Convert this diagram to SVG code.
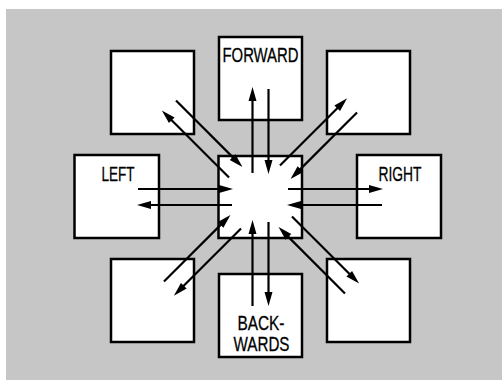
<svg xmlns="http://www.w3.org/2000/svg" width="502" height="380" viewBox="0 0 502 380">
<style>
.box{fill:#fff;stroke:#000;stroke-width:2.5}
.lbl{font-family:"Liberation Sans",Arial,sans-serif;font-size:21px;fill:#000;stroke:#000;stroke-width:0.3;text-anchor:middle}
.arr{stroke:#000;stroke-width:2.2;fill:none;marker-end:url(#ah)}
</style>
<defs>
<marker id="ah" markerUnits="userSpaceOnUse" markerWidth="14" markerHeight="8" refX="4" refY="4" orient="auto" overflow="visible">
<path d="M0,0 L14,4 L0,8 Z" fill="#000"/>
</marker>
</defs>
<rect x="0" y="0" width="502" height="380" fill="#fff"/>
<rect x="6" y="9" width="496" height="371" fill="#c6c6c6"/>
<g id="node-topleft"><rect class="box" x="111" y="51" width="83" height="83"/></g>
<g id="node-forward"><rect class="box" x="219" y="37" width="83" height="83"/><text class="lbl" x="260.5" y="62" textLength="76" lengthAdjust="spacingAndGlyphs">FORWARD</text></g>
<g id="node-topright"><rect class="box" x="327" y="51" width="83" height="83"/></g>
<g id="node-left"><rect class="box" x="74.5" y="155" width="84.5" height="83"/><text class="lbl" x="118" y="181" textLength="33" lengthAdjust="spacingAndGlyphs">LEFT</text></g>
<g id="node-center"><rect class="box" x="218.5" y="156" width="83.5" height="82"/></g>
<g id="node-right"><rect class="box" x="357" y="155" width="84" height="83"/><text class="lbl" x="400" y="181" textLength="43" lengthAdjust="spacingAndGlyphs">RIGHT</text></g>
<g id="node-bottomleft"><rect class="box" x="111" y="259" width="83" height="83"/></g>
<g id="node-backwards"><rect class="box" x="219" y="274" width="83" height="83"/><text class="lbl" x="261" y="330" textLength="47" lengthAdjust="spacingAndGlyphs">BACK-</text><text class="lbl" x="261.5" y="351" textLength="56" lengthAdjust="spacingAndGlyphs">WARDS</text></g>
<g id="node-bottomright"><rect class="box" x="327" y="259" width="83" height="83"/></g>
<g id="connectors">
<line class="arr" x1="252.5" y1="173" x2="252.5" y2="97"/>
<line class="arr" x1="268.5" y1="89" x2="268.5" y2="164"/>
<line class="arr" x1="252.5" y1="306" x2="252.5" y2="230"/>
<line class="arr" x1="268.5" y1="222" x2="268.5" y2="296"/>
<line class="arr" x1="138" y1="189" x2="223" y2="189"/>
<line class="arr" x1="232" y1="205" x2="147" y2="205"/>
<line class="arr" x1="288" y1="189" x2="373" y2="189"/>
<line class="arr" x1="382" y1="205" x2="297" y2="205"/>
<line class="arr" x1="229.03" y1="177.55" x2="168.93" y2="117.45"/>
<line class="arr" x1="176" y1="100.48" x2="235.4" y2="159.88"/>
<line class="arr" x1="279.95" y1="165.53" x2="340.05" y2="105.43"/>
<line class="arr" x1="357.02" y1="112.5" x2="297.62" y2="171.9"/>
<line class="arr" x1="291.97" y1="216.45" x2="352.07" y2="276.55"/>
<line class="arr" x1="345" y1="293.52" x2="285.6" y2="234.12"/>
<line class="arr" x1="241.05" y1="228.47" x2="180.95" y2="288.57"/>
<line class="arr" x1="163.98" y1="281.5" x2="223.38" y2="222.1"/>
</g>
</svg>
